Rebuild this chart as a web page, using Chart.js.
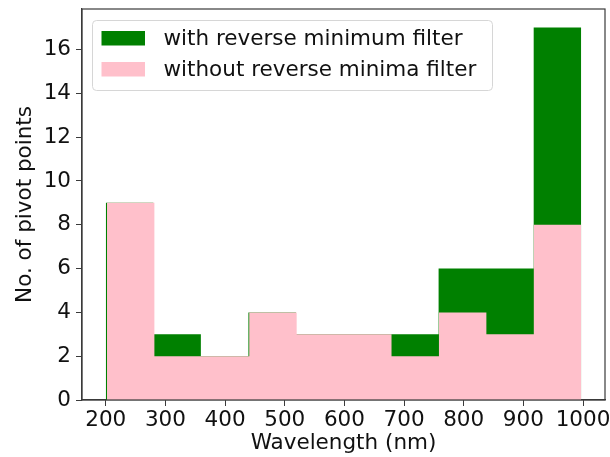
<!DOCTYPE html>
<html>
<head>
<meta charset="utf-8">
<script src="https://cdn.jsdelivr.net/npm/chart.js@4/dist/chart.umd.min.js"></script>
<style>
  html, body { margin: 0; padding: 0; background: #ffffff; }
  #wrap { width: 610px; height: 457px; position: relative; }
</style>
</head>
<body>
<div id="wrap"><canvas id="hist"></canvas></div>
<script>
// Histogram bin edges (nm) and counts for each filter setting
const withFilterEdges = [200, 279.7, 359.4, 439.1, 518.8, 598.5, 678.2, 757.9, 837.6, 917.3, 997];
const withFilterCounts = [9, 3, 2, 4, 3, 3, 3, 6, 6, 17];
const withoutFilterEdges = [202, 281.5, 361, 440.5, 520, 599.5, 679, 758.5, 838, 917.5, 997];
const withoutFilterCounts = [9, 2, 2, 4, 3, 3, 2, 4, 3, 8];

const seriesLabels = ['with reverse minimum filter', 'without reverse minima filter'];
const xTickValues = [200, 300, 400, 500, 600, 700, 800, 900, 1000];
const yTickValues = [0, 2, 4, 6, 8, 10, 12, 14, 16];

const FONT = 'DejaVu Sans';
const FS = 21.5;
const TEXT = '#111111';
const SPINE = '#3a3a3a';

// Turn edges + counts into step points (last count repeated at the closing edge)
function stepPoints(edges, counts) {
  const pts = counts.map((c, i) => ({ x: edges[i], y: c }));
  pts.push({ x: edges[edges.length - 1], y: counts[counts.length - 1] });
  return pts;
}

// Frame on all four sides of the plot area
const framePlugin = {
  id: 'frame',
  afterDatasetsDraw(chart) {
    const { ctx, chartArea: a } = chart;
    ctx.save();
    ctx.strokeStyle = SPINE;
    ctx.lineWidth = 1.2;
    ctx.strokeRect(a.left, a.top, a.right - a.left, a.bottom - a.top);
    ctx.restore();
  }
};

// Legend box drawn inside the plot, upper left
const insideLegend = {
  id: 'insideLegend',
  afterDraw(chart) {
    const { ctx } = chart;
    const x = 92.5, y = 20.5, w = 400, h = 70, r = 4;
    ctx.save();
    ctx.beginPath();
    ctx.moveTo(x + r, y);
    ctx.lineTo(x + w - r, y);
    ctx.quadraticCurveTo(x + w, y, x + w, y + r);
    ctx.lineTo(x + w, y + h - r);
    ctx.quadraticCurveTo(x + w, y + h, x + w - r, y + h);
    ctx.lineTo(x + r, y + h);
    ctx.quadraticCurveTo(x, y + h, x, y + h - r);
    ctx.lineTo(x, y + r);
    ctx.quadraticCurveTo(x, y, x + r, y);
    ctx.closePath();
    ctx.fillStyle = 'rgba(255,255,255,0.8)';
    ctx.fill();
    ctx.strokeStyle = '#d6d6d6';
    ctx.lineWidth = 1;
    ctx.stroke();

    const rows = [{ top: 31, base: 44.5 }, { top: 62, base: 76 }];
    chart.data.datasets.forEach((ds, i) => {
      const row = rows[i];
      ctx.fillStyle = ds.backgroundColor;
      ctx.fillRect(101.5, row.top, 43.5, 14.5);
      ctx.fillStyle = TEXT;
      ctx.font = FS + 'px "' + FONT + '"';
      ctx.textBaseline = 'alphabetic';
      ctx.textAlign = 'left';
      ctx.fillText(ds.label, 163.5, row.base);
    });
    ctx.restore();
  }
};

new Chart(document.getElementById('hist'), {
  type: 'line',
  data: {
    datasets: [
      {
        label: seriesLabels[0],
        data: stepPoints(withFilterEdges, withFilterCounts),
        stepped: true,
        fill: 'origin',
        backgroundColor: '#008000',
        borderColor: 'rgba(0,0,0,0)',
        borderWidth: 0,
        pointRadius: 0,
        order: 2
      },
      {
        label: seriesLabels[1],
        data: stepPoints(withoutFilterEdges, withoutFilterCounts),
        stepped: true,
        fill: 'origin',
        backgroundColor: '#ffc0cb',
        borderColor: 'rgba(0,0,0,0)',
        borderWidth: 0,
        pointRadius: 0,
        order: 1
      }
    ]
  },
  options: {
    responsive: true,
    maintainAspectRatio: false,
    animation: false,
    layout: { padding: { top: 9, right: 5, left: 0, bottom: 0 } },
    plugins: {
      legend: { display: false },
      tooltip: { enabled: false }
    },
    scales: {
      x: {
        type: 'linear',
        min: 160.15,
        max: 1036.85,
        afterBuildTicks(scale) { scale.ticks = xTickValues.map(v => ({ value: v })); },
        afterFit(scale) {
          scale.height = 57;
          scale.paddingLeft = 0;
          scale.paddingRight = 0;
        },
        grid: { drawOnChartArea: false, drawTicks: true, tickLength: 6, color: SPINE },
        border: { display: true, color: SPINE, width: 1.2 },
        ticks: {
          color: TEXT,
          font: { family: FONT, size: FS },
          padding: 2,
          maxRotation: 0,
          autoSkip: false,
          callback: v => String(v)
        },
        title: {
          display: true,
          text: 'Wavelength (nm)',
          color: TEXT,
          font: { family: FONT, size: FS },
          padding: { top: 0, bottom: 1 }
        }
      },
      y: {
        type: 'linear',
        min: 0,
        max: 17.85,
        afterBuildTicks(scale) { scale.ticks = yTickValues.map(v => ({ value: v })); },
        afterFit(scale) {
          scale.width = 82;
          scale.paddingTop = 0;
          scale.paddingBottom = 0;
        },
        grid: { drawOnChartArea: false, drawTicks: true, tickLength: 6, color: SPINE },
        border: { display: true, color: SPINE, width: 1.2 },
        ticks: {
          color: TEXT,
          font: { family: FONT, size: FS },
          padding: 5,
          autoSkip: false,
          callback: v => String(v)
        },
        title: {
          display: true,
          text: 'No. of pivot points',
          color: TEXT,
          font: { family: FONT, size: FS },
          padding: { top: 13, bottom: 0 }
        }
      }
    }
  },
  plugins: [framePlugin, insideLegend]
});
</script>
</body>
</html>
